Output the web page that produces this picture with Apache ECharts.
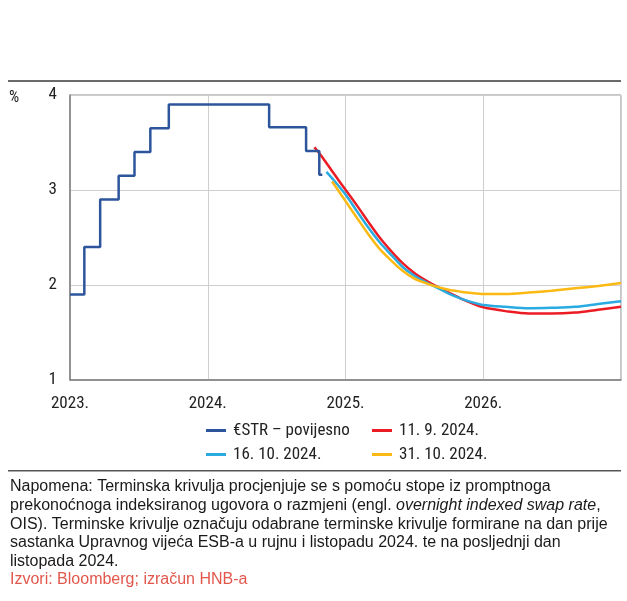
<!DOCTYPE html>
<html>
<head>
<meta charset="utf-8">
<script src="https://cdn.jsdelivr.net/npm/echarts@6/dist/echarts.min.js"></script>
<style>
  html, body { margin: 0; padding: 0; background: #fff; }
  #chart { width: 627px; height: 601px; }
</style>
</head>
<body>
<div id="chart"></div>
<script>
// €STR – povijesno: datum promjene i stopa (%)
const estrDates = ['2023-01-01', '2023-02-08', '2023-03-22', '2023-05-10', '2023-06-21', '2023-08-02',
  '2023-09-20', '2024-06-12', '2024-09-18', '2024-10-23', '2024-10-31']
const estrValues = [1.90, 2.40, 2.90, 3.15, 3.40, 3.65, 3.90, 3.66, 3.41, 3.16, 3.16]

// terminske krivulje - zajednicki datumi od 2025.
const fwdDates = ['2025-01-01', '2025-02-01', '2025-03-01', '2025-04-01', '2025-05-01', '2025-06-01',
  '2025-07-01', '2025-08-01', '2025-09-01', '2025-10-01', '2025-11-01', '2025-12-01',
  '2026-01-01', '2026-03-01', '2026-05-01', '2026-07-01', '2026-09-01', '2026-11-01', '2027-01-01']

// 11. 9. 2024.
const sepStartDates = ['2024-10-10', '2024-11-01', '2024-12-01']
const sepStartValues = [3.45, 3.34, 3.17]
const sepValues = [3.00, 2.83, 2.67, 2.50, 2.36, 2.23, 2.13, 2.05, 1.98, 1.92, 1.86, 1.81,
  1.765, 1.725, 1.70, 1.70, 1.71, 1.74, 1.77]

// 16. 10. 2024.
const octStartDates = ['2024-11-11', '2024-12-01']
const octStartValues = [3.19, 3.10]
const octValues = [2.95, 2.77, 2.61, 2.45, 2.32, 2.19, 2.10, 2.03, 1.97, 1.91, 1.86, 1.82,
  1.79, 1.77, 1.755, 1.76, 1.77, 1.80, 1.83]

// 31. 10. 2024.
const endOctStartDates = ['2024-11-26']
const endOctStartValues = [3.09]
const endOctValues = [2.88, 2.70, 2.54, 2.38, 2.26, 2.15, 2.07, 2.02, 1.98, 1.95, 1.93, 1.915,
  1.905, 1.905, 1.92, 1.94, 1.965, 1.99, 2.02]

const yTicks = [1, 2, 3, 4]

const noteLines = [
  'Napomena: Terminska krivulja procjenjuje se s pomoću stope iz promptnoga',
  '{a|prekonoćnoga indeksiranog ugovora o razmjeni (engl. }{i|overnight indexed swap rate}{a|,}',
  'OIS). Terminske krivulje označuju odabrane terminske krivulje formirane na dan prije',
  'sastanka Upravnog vijeća ESB-a u rujnu i listopadu 2024. te na posljednji dan',
  'listopada 2024.'
]
const sourceText = 'Izvori: Bloomberg; izračun HNB-a'

const NARROW = '"Liberation Sans Narrow", "Roboto Condensed", "DejaVu Sans Condensed", sans-serif'
const SANS = '"Liberation Sans", Arial, sans-serif'
const NOTE_SIZE = 16

const toPairs = (dates, values) => dates.map((d, i) => [Date.parse(d), values[i]])

const chart = echarts.init(document.getElementById('chart'))

const legendBase = {
  padding: 0,
  itemWidth: 20,
  itemHeight: 3,
  icon: 'rect',
  textStyle: { fontFamily: NARROW, fontSize: 17, color: '#222', padding: [0, 0, 0, 2] }
}

const lineSeries = (name, data, color, extra) => Object.assign({
  name: name,
  type: 'line',
  data: data,
  symbol: 'none',
  smooth: 0.3,
  color: color,
  lineStyle: { width: 2.5, color: color }
}, extra || {})

const graphics = [
  { type: 'rect', shape: { x: 8, y: 80, width: 613, height: 2 }, style: { fill: '#6a6a6a' } },
  { type: 'rect', shape: { x: 8, y: 470, width: 613, height: 1.5 }, style: { fill: '#555' } },
  { type: 'text', x: 9, y: 98, style: { text: '%', font: '16px ' + NARROW, fill: '#222', verticalAlign: 'middle' } }
]
noteLines.forEach((line, i) => {
  graphics.push({
    type: 'text',
    x: 10,
    y: 487 + i * 18.6,
    style: {
      text: line,
      font: NOTE_SIZE + 'px ' + SANS,
      fill: '#1a1a1a',
      verticalAlign: 'middle',
      rich: {
        a: { fontSize: NOTE_SIZE, fontFamily: SANS, fill: '#1a1a1a' },
        i: { fontSize: NOTE_SIZE, fontFamily: SANS, fontStyle: 'italic', fill: '#1a1a1a' }
      }
    }
  })
})
graphics.push({
  type: 'text',
  x: 10,
  y: 487 + 5 * 18.6,
  style: { text: sourceText, font: NOTE_SIZE + 'px ' + SANS, fill: '#e2574c', verticalAlign: 'middle' }
})

const option = {
  animation: false,
  backgroundColor: '#fff',
  grid: {
    left: 70, right: 6, top: 95, bottom: 221,
    show: true, borderColor: '#8c8c8c', borderWidth: 1
  },
  legend: [
    Object.assign({ data: ['€STR – povijesno'], left: 206, top: 422 }, legendBase),
    Object.assign({ data: ['11. 9. 2024.'], left: 372, top: 422 }, legendBase),
    Object.assign({ data: ['16. 10. 2024.'], left: 206, top: 446 }, legendBase),
    Object.assign({ data: ['31. 10. 2024.'], left: 372, top: 446 }, legendBase)
  ],
  xAxis: {
    type: 'value',
    min: Date.UTC(2023, 0, 1),
    max: Date.UTC(2027, 0, 1),
    interval: 365.25 * 864e5,
    axisLine: { show: true, lineStyle: { color: '#7f7f7f', width: 1.5 } },
    axisTick: { show: false },
    splitLine: { show: true, lineStyle: { color: '#cfcfcf', width: 1 } },
    axisLabel: {
      showMaxLabel: false,
      margin: 15,
      fontFamily: NARROW,
      fontSize: 17,
      color: '#222',
      formatter: v => new Date(v + 432e5).getUTCFullYear() + '.'
    }
  },
  yAxis: {
    type: 'value',
    min: yTicks[0],
    max: yTicks[yTicks.length - 1],
    interval: 1,
    axisLine: { show: true, lineStyle: { color: '#7f7f7f', width: 1.5 } },
    axisTick: { show: false },
    splitLine: { show: true, lineStyle: { color: '#cfcfcf', width: 1 } },
    axisLabel: { margin: 13, fontFamily: NARROW, fontSize: 17, color: '#222' }
  },
  series: [
    lineSeries('11. 9. 2024.', toPairs(sepStartDates.concat(fwdDates), sepStartValues.concat(sepValues)), '#ec1c24'),
    lineSeries('16. 10. 2024.', toPairs(octStartDates.concat(fwdDates), octStartValues.concat(octValues)), '#29abe2'),
    lineSeries('31. 10. 2024.', toPairs(endOctStartDates.concat(fwdDates), endOctStartValues.concat(endOctValues)), '#fdb913'),
    lineSeries('€STR – povijesno', toPairs(estrDates, estrValues), '#2c559b', { smooth: false, step: 'end' })
  ],
  graphic: graphics
}

chart.setOption(option)
</script>
</body>
</html>
